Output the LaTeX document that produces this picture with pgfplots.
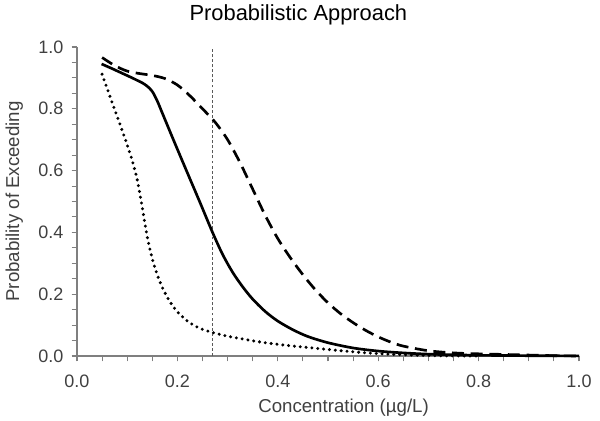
\documentclass[border=0pt]{standalone}
\usepackage{pgfplots}
\pgfplotsset{compat=1.18}
\usepackage{fontspec}
\setmainfont{Liberation Sans}
\definecolor{txt}{HTML}{404040}
\definecolor{axc}{HTML}{7F7F7F}
\begin{document}
\begin{tikzpicture}
\begin{axis}[
  scale only axis,
  width=376.5pt, height=231.75pt,
  xmin=0, xmax=1, ymin=0, ymax=1,
  axis x line=bottom, axis y line=left,
  axis line style={-, axc, line width=0.8pt},
  xtick={0,0.2,...,1.0}, ytick={0,0.2,...,1.0},
  minor xtick={0.05,0.1,...,0.95}, minor ytick={0.05,0.1,...,0.95},
  tick align=outside,
  major tick length=4pt, minor tick length=4pt,
  every tick/.style={axc, line width=0.8pt},
  /pgf/number format/fixed, /pgf/number format/fixed zerofill,
  /pgf/number format/precision=1,
  /pgf/number format/assume math mode=true,
  tick label style={font=\fontsize{13.5}{15}\selectfont, text=txt},
  xticklabel style={/tikz/yshift=-6.5pt},
  yticklabel style={/tikz/xshift=-2.75pt},
  label style={font=\fontsize{14}{16}\selectfont, text=txt},
  title style={font=\fontsize{16.4}{18}\selectfont, text=black,
     at={(axis description cs:0.441,1)}, anchor=south, yshift=7.3pt},
  title={Probabilistic Approach},
  xlabel={Concentration (µg/L)},
  ylabel={Probability of Exceeding},
  xlabel style={at={(axis description cs:0.531,0)}, anchor=north, yshift=-28.5pt},
  ylabel style={at={(axis description cs:-0.098,0.5)}, anchor=south},
  clip=false,
]
\addplot[black!65, line width=0.7pt, dash pattern=on 2.2pt off 1.6pt] coordinates {(0.27,0) (0.27,1)};
% solid
\addplot[black, line width=2pt, smooth, tension=0.5] coordinates {
(0.049,0.945) (0.07,0.930) (0.09,0.915) (0.11,0.900) (0.12,0.892) (0.13,0.884) (0.14,0.873)
(0.15,0.856) (0.16,0.825) (0.17,0.786) (0.192,0.700) (0.218,0.600) (0.245,0.497) (0.27,0.400)
(0.29,0.329) (0.31,0.271) (0.33,0.224) (0.35,0.184) (0.375,0.144) (0.40,0.113)
(0.43,0.085) (0.46,0.063) (0.50,0.043) (0.55,0.026) (0.60,0.016) (0.65,0.010)
(0.70,0.006) (0.75,0.004) (0.80,0.0023) (0.90,0.001) (1.0,0.0003)};
% dashed
\addplot[black, line width=2pt, dash pattern=on 9pt off 5pt, smooth, tension=0.5] coordinates {
(0.05,0.966) (0.075,0.940) (0.10,0.922) (0.125,0.914) (0.15,0.908) (0.175,0.898)
(0.20,0.877) (0.225,0.842) (0.25,0.800) (0.275,0.757) (0.30,0.700) (0.325,0.625)
(0.35,0.540) (0.375,0.455) (0.40,0.380) (0.425,0.318) (0.45,0.263) (0.475,0.214)
(0.50,0.172) (0.525,0.137) (0.55,0.108) (0.575,0.083) (0.60,0.062) (0.625,0.045)
(0.65,0.032) (0.70,0.017) (0.75,0.010) (0.80,0.007) (0.85,0.005) (0.90,0.003)
(0.95,0.001) (1.0,0.0)};
% dotted
\addplot[black, line width=2.5pt, line cap=round, dash pattern=on 0pt off 4.4pt, smooth, tension=0.5] coordinates {
(0.05,0.912) (0.06,0.866) (0.07,0.820) (0.08,0.775) (0.09,0.730) (0.10,0.683)
(0.11,0.632) (0.12,0.570) (0.13,0.480) (0.14,0.385) (0.15,0.315) (0.16,0.262)
(0.17,0.222) (0.18,0.190) (0.19,0.164) (0.20,0.143) (0.22,0.113) (0.24,0.093)
(0.26,0.081) (0.28,0.072) (0.30,0.064) (0.33,0.055) (0.37,0.044) (0.42,0.034)
(0.47,0.026) (0.52,0.018) (0.57,0.011) (0.62,0.006) (0.67,0.003) (0.72,0.001) (0.80,0.0)};
\end{axis}
\pgfresetboundingbox
\useasboundingbox ([xshift=-57.75pt,yshift=-48.75pt]current axis.south west) rectangle ([xshift=15.75pt,yshift=35.25pt]current axis.north east);
\end{tikzpicture}
\end{document}
